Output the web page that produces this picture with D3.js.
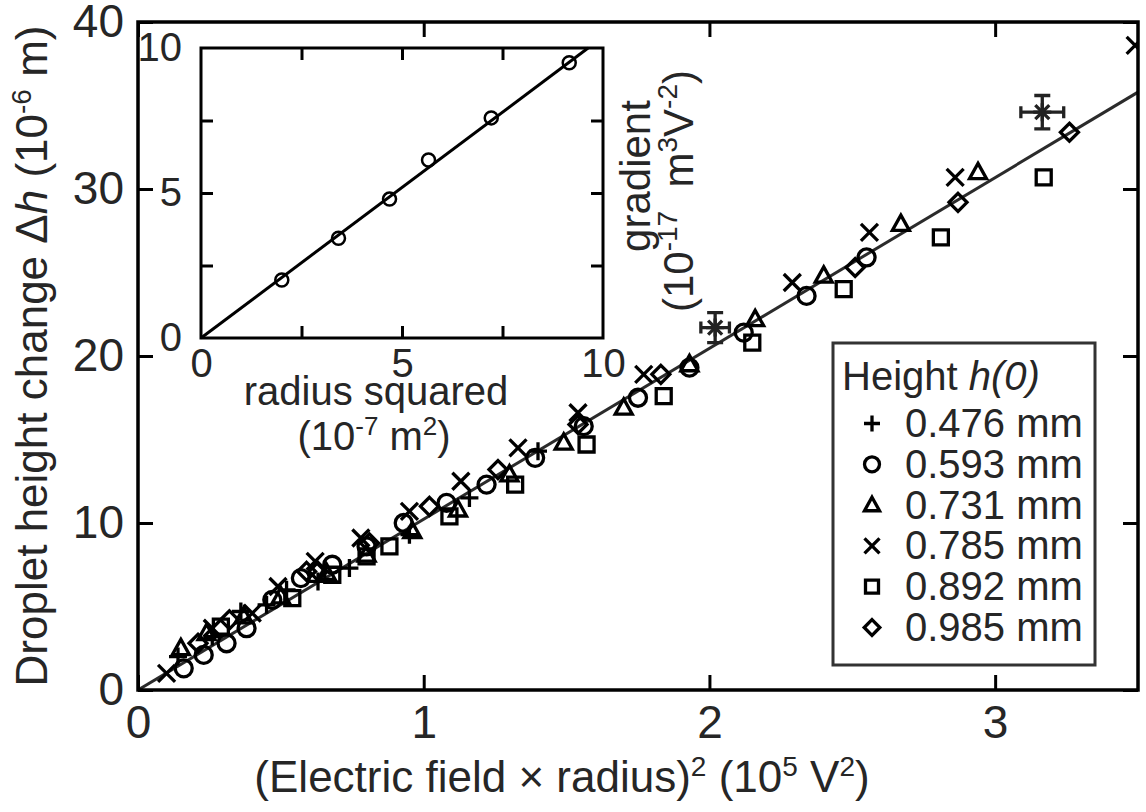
<!DOCTYPE html>
<html>
<head>
<meta charset="utf-8">
<script src="https://cdn.jsdelivr.net/npm/d3@7"></script>
<style>
  body { margin: 0; background: #fff; }
  svg { display: block; font-family: "Liberation Sans", Arial, sans-serif; }
  text { fill: #262626; }
</style>
</head>
<body>
<div id="chart"></div>
<script>
// ---- data ----
const xTicks = [0, 1, 2, 3];
const yTicks = [0, 10, 20, 30, 40];
const seriesLabels = ["0.476 mm", "0.593 mm", "0.731 mm", "0.785 mm", "0.892 mm", "0.985 mm"];
const seriesShapes = ["plus", "circle", "triangle", "cross", "square", "diamond"];

// (E r)^2 [1e5 V^2], dh [1e-6 m]
const h476 = [[0.14, 2.0], [0.26, 3.2], [0.36, 4.7], [0.45, 5.1], [0.52, 6.0], [0.63, 6.5], [0.74, 7.3],
              [0.95, 9.3], [1.16, 11.5], [1.40, 14.3]];
const h593 = [[0.16, 1.3], [0.23, 2.1], [0.31, 2.8], [0.38, 3.7], [0.47, 5.4], [0.57, 6.7], [0.68, 7.5],
              [0.80, 8.6], [0.93, 10.0], [1.08, 11.2], [1.22, 12.3], [1.39, 13.9], [1.56, 15.8],
              [1.75, 17.5], [1.93, 19.3], [2.12, 21.4], [2.34, 23.6], [2.55, 25.9]];
const h731 = [[0.15, 2.5], [0.24, 3.4], [0.37, 4.4], [0.50, 5.6], [0.66, 7.0], [0.80, 8.1], [0.96, 9.5],
              [1.12, 10.8], [1.30, 12.9], [1.49, 14.8], [1.70, 16.9], [1.93, 19.5], [2.16, 22.2],
              [2.40, 24.8], [2.67, 27.9], [2.94, 31.0]];
const h785 = [[0.10, 1.0], [0.26, 3.7], [0.40, 4.6], [0.49, 6.2], [0.62, 7.7], [0.78, 9.1], [0.95, 10.7],
              [1.13, 12.5], [1.33, 14.5], [1.54, 16.6], [1.77, 18.9], [2.29, 24.4], [2.56, 27.4],
              [2.86, 30.7], [3.49, 38.6]];
const h892 = [[0.29, 3.8], [0.54, 5.5], [0.68, 6.9], [0.80, 8.0], [0.88, 8.6], [1.09, 10.4], [1.32, 12.3],
              [1.57, 14.7], [1.84, 17.6], [2.15, 20.8], [2.47, 24.0], [2.81, 27.1], [3.17, 30.7]];
const h985 = [[0.21, 2.8], [0.32, 4.2], [0.59, 7.1], [0.63, 7.1], [0.81, 8.8], [1.02, 11.0], [1.26, 13.2],
              [1.54, 15.9], [1.83, 18.9], [2.51, 25.3], [2.87, 29.2], [3.26, 33.4]];
const seriesData = [h476, h593, h731, h785, h892, h985];

// representative points with error bars: x, y, x error, y error
const errPts = [[2.02, 21.7, 0.05, 0.9], [3.165, 34.6, 0.075, 1.0]];
const fitLine = [[0, 0], [3.5, 35.8]];

// inset: radius squared [1e-7 m^2] vs gradient [1e-17 m^3 V^-2]
const insetR2 = [2.01, 3.42, 4.69, 5.66, 7.22, 9.16];
const insetGrad = [2.0, 3.44, 4.79, 6.14, 7.59, 9.49];
const insetFit = [[0, 0], [9.63, 10]];
const insetTicks = [0, 5, 10];
const insetMinor = [2.5, 5, 7.5];

// ---- layout ----
const width = 1146, height = 812;
const plot = { left: 138, right: 1138, top: 22, bottom: 690 };
const inset = { left: 201, right: 603, top: 48, bottom: 338 };

const svg = d3.select("#chart").append("svg")
  .attr("width", width)
  .attr("height", height);

svg.append("rect").attr("width", width).attr("height", height).attr("fill", "#fff");

const x = d3.scaleLinear().domain([0, 3.5]).range([plot.left, plot.right]);
const y = d3.scaleLinear().domain([0, 40]).range([plot.bottom, plot.top]);

// marker paths centred on 0,0
function markerPath(shape, s) {
  switch (shape) {
    case "plus": return `M${-s},0H${s}M0,${-s}V${s}`;
    case "cross": return `M${-s},${-s}L${s},${s}M${-s},${s}L${s},${-s}`;
    case "circle": return d3.arc()({ innerRadius: 0, outerRadius: s, startAngle: 0, endAngle: 2 * Math.PI }) ;
    case "triangle": return `M0,${-s * 1.05}L${s},${s * 0.75}L${-s},${s * 0.75}Z`;
    case "square": return `M${-s},${-s}H${s}V${s}H${-s}Z`;
    case "diamond": return `M0,${-s * 1.2}L${s * 1.2},0L0,${s * 1.2}L${-s * 1.2},0Z`;
  }
}
const markerSize = { plus: 9, cross: 8.5, circle: 8.5, triangle: 8.5, square: 7.5, diamond: 7.5 };

// clip for main plot
svg.append("clipPath").attr("id", "clip")
  .append("rect")
    .attr("x", plot.left).attr("y", plot.top)
    .attr("width", plot.right - plot.left).attr("height", plot.bottom - plot.top);

const main = svg.append("g").attr("clip-path", "url(#clip)");

// fit line
main.append("path")
  .datum(fitLine)
  .attr("d", d3.line().x(d => x(d[0])).y(d => y(d[1])))
  .attr("fill", "none")
  .attr("stroke", "#2b2b2b")
  .attr("stroke-width", 3);

// data markers
seriesData.forEach((data, i) => {
  const shape = seriesShapes[i];
  main.selectAll(null)
    .data(data)
    .enter()
    .append("path")
      .attr("transform", d => `translate(${x(d[0])},${y(d[1])})`)
      .attr("d", markerPath(shape, markerSize[shape]))
      .attr("fill", "none")
      .attr("stroke", "#000")
      .attr("stroke-width", 3.3);
});

// error bar points
errPts.forEach(p => {
  const g = main.append("g").attr("stroke", "#222").attr("stroke-width", 3.3).attr("fill", "none");
  const cx = x(p[0]), cy = y(p[1]);
  const x0 = x(p[0] - p[2]), x1 = x(p[0] + p[2]);
  const y0 = y(p[1] - p[3]), y1 = y(p[1] + p[3]);
  g.append("path").attr("d", `M${x0},${cy}H${x1}M${x0},${cy - 6}V${cy + 6}M${x1},${cy - 6}V${cy + 6}`);
  g.append("path").attr("d", `M${cx},${y0}V${y1}M${cx - 8},${y0}H${cx + 8}M${cx - 8},${y1}H${cx + 8}`);
  g.append("path").attr("d", markerPath("plus", 9)).attr("transform", `translate(${cx},${cy})`);
  g.append("path").attr("d", markerPath("cross", 7)).attr("transform", `translate(${cx},${cy})`);
});

// axes with inward ticks on all sides
const tickLen = 15;
svg.append("g")
  .attr("transform", `translate(0,${plot.bottom})`)
  .call(d3.axisBottom(x).tickValues(xTicks).tickSize(-tickLen).tickPadding(15).tickFormat(d3.format("d")))
  .call(g => g.select(".domain").remove());
svg.append("g")
  .attr("transform", `translate(0,${plot.top})`)
  .call(d3.axisTop(x).tickValues(xTicks).tickSize(-tickLen).tickFormat(""))
  .call(g => g.select(".domain").remove());
svg.append("g")
  .attr("transform", `translate(${plot.left},0)`)
  .call(d3.axisLeft(y).tickValues(yTicks).tickSize(-tickLen).tickPadding(14).tickFormat(d3.format("d")))
  .call(g => g.select(".domain").remove());
svg.append("g")
  .attr("transform", `translate(${plot.right},0)`)
  .call(d3.axisRight(y).tickValues(yTicks).tickSize(-tickLen).tickFormat(""))
  .call(g => g.select(".domain").remove());

svg.selectAll(".tick line").attr("stroke", "#000").attr("stroke-width", 3);
svg.selectAll(".tick text")
  .attr("font-family", "Liberation Sans, Arial, sans-serif")
  .attr("font-size", 46)
  .attr("fill", "#262626");

// main frame
svg.append("rect")
  .attr("x", plot.left).attr("y", plot.top)
  .attr("width", plot.right - plot.left).attr("height", plot.bottom - plot.top)
  .attr("fill", "none").attr("stroke", "#000").attr("stroke-width", 3.5);

// axis labels
const xLab = svg.append("text")
  .attr("x", 562).attr("y", 792)
  .attr("text-anchor", "middle")
  .attr("font-size", 44);
xLab.append("tspan").text("(Electric field \u00d7 radius)");
xLab.append("tspan").attr("font-size", 28).attr("dy", -16).text("2");
xLab.append("tspan").attr("dy", 16).text(" (10");
xLab.append("tspan").attr("font-size", 28).attr("dy", -16).text("5");
xLab.append("tspan").attr("dy", 16).text(" V");
xLab.append("tspan").attr("font-size", 28).attr("dy", -16).text("2");
xLab.append("tspan").attr("dy", 16).text(")");

const yLab = svg.append("text")
  .attr("transform", "translate(47,356) rotate(-90)")
  .attr("text-anchor", "middle")
  .attr("font-size", 44);
yLab.append("tspan").text("Droplet height change \u0394");
yLab.append("tspan").attr("font-style", "italic").text("h");
yLab.append("tspan").text(" (10");
yLab.append("tspan").attr("font-size", 28).attr("dy", -16).text("-6");
yLab.append("tspan").attr("dy", 16).text(" m)");

// ---- legend ----
const legend = svg.append("g");
legend.append("rect")
  .attr("x", 833).attr("y", 343)
  .attr("width", 262).attr("height", 322)
  .attr("fill", "#fff").attr("stroke", "#333").attr("stroke-width", 3);
const lt = legend.append("text").attr("x", 842).attr("y", 390).attr("font-size", 40);
lt.append("tspan").text("Height ");
lt.append("tspan").attr("font-style", "italic").text("h(0)");

seriesLabels.forEach((label, i) => {
  const by = 437 + i * 40.8;
  const shape = seriesShapes[i];
  legend.append("path")
    .attr("transform", `translate(872,${by - 13.5})`)
    .attr("d", markerPath(shape, markerSize[shape] - 1))
    .attr("fill", "none").attr("stroke", "#000").attr("stroke-width", 3.3);
  legend.append("text")
    .attr("x", 905).attr("y", by)
    .attr("font-size", 40)
    .text(label);
});

// ---- inset ----
const ix = d3.scaleLinear().domain([0, 10]).range([inset.left, inset.right]);
const iy = d3.scaleLinear().domain([0, 10]).range([inset.bottom, inset.top]);
const ins = svg.append("g");

ins.append("rect")
  .attr("x", inset.left).attr("y", inset.top)
  .attr("width", inset.right - inset.left).attr("height", inset.bottom - inset.top)
  .attr("fill", "#fff");

ins.append("path")
  .datum(insetFit)
  .attr("d", d3.line().x(d => ix(d[0])).y(d => iy(d[1])))
  .attr("fill", "none").attr("stroke", "#000").attr("stroke-width", 3);

ins.selectAll("circle")
  .data(insetR2)
  .enter()
  .append("circle")
    .attr("cx", d => ix(d))
    .attr("cy", (d, i) => iy(insetGrad[i]))
    .attr("r", 6.5)
    .attr("fill", "none").attr("stroke", "#000").attr("stroke-width", 2.5);

const iTick = 12;
ins.append("g").attr("class", "inset-axis")
  .attr("transform", `translate(0,${inset.bottom})`)
  .call(d3.axisBottom(ix).tickValues(insetMinor).tickSize(-iTick).tickFormat(""));
ins.append("g").attr("class", "inset-axis")
  .attr("transform", `translate(0,${inset.top})`)
  .call(d3.axisTop(ix).tickValues(insetMinor).tickSize(-iTick).tickFormat(""));
ins.append("g").attr("class", "inset-axis")
  .attr("transform", `translate(${inset.left},0)`)
  .call(d3.axisLeft(iy).tickValues(insetMinor).tickSize(-iTick).tickFormat(""));
ins.append("g").attr("class", "inset-axis")
  .attr("transform", `translate(${inset.right},0)`)
  .call(d3.axisRight(iy).tickValues(insetMinor).tickSize(-iTick).tickFormat(""));
ins.selectAll(".inset-axis .domain").remove();
ins.selectAll(".inset-axis .tick line").attr("stroke", "#000").attr("stroke-width", 3);

// inset tick labels
ins.append("g")
  .attr("transform", `translate(0,${inset.bottom})`)
  .call(d3.axisBottom(ix).tickValues(insetTicks).tickSize(0).tickPadding(11))
  .call(g => g.select(".domain").remove());
ins.append("g")
  .attr("transform", `translate(${inset.left},0)`)
  .call(d3.axisLeft(iy).tickValues(insetTicks).tickSize(0).tickPadding(19))
  .call(g => g.select(".domain").remove());
ins.selectAll(".tick text")
  .attr("font-family", "Liberation Sans, Arial, sans-serif")
  .attr("font-size", 40)
  .attr("fill", "#262626");

ins.append("rect")
  .attr("x", inset.left).attr("y", inset.top)
  .attr("width", inset.right - inset.left).attr("height", inset.bottom - inset.top)
  .attr("fill", "none").attr("stroke", "#000").attr("stroke-width", 3);

ins.append("text")
  .attr("x", 376).attr("y", 405)
  .attr("text-anchor", "middle").attr("font-size", 40)
  .text("radius squared");
const ixl = ins.append("text")
  .attr("x", 374).attr("y", 450)
  .attr("text-anchor", "middle").attr("font-size", 40);
ixl.append("tspan").text("(10");
ixl.append("tspan").attr("font-size", 26).attr("dy", -15).text("-7");
ixl.append("tspan").attr("dy", 15).text(" m");
ixl.append("tspan").attr("font-size", 26).attr("dy", -15).text("2");
ixl.append("tspan").attr("dy", 15).text(")");

ins.append("text")
  .attr("transform", "translate(650,176) rotate(-90)")
  .attr("text-anchor", "middle").attr("font-size", 42)
  .text("gradient");
const iyl = ins.append("text")
  .attr("transform", "translate(693,191) rotate(-90)")
  .attr("text-anchor", "middle").attr("font-size", 42);
iyl.append("tspan").text("(10");
iyl.append("tspan").attr("font-size", 28).attr("dy", -16).text("-17");
iyl.append("tspan").attr("dy", 16).text("\u00a0\u00a0m");
iyl.append("tspan").attr("font-size", 28).attr("dy", -16).text("3");
iyl.append("tspan").attr("dy", 16).text("V");
iyl.append("tspan").attr("font-size", 28).attr("dy", -16).text("-2");
iyl.append("tspan").attr("dy", 16).text(")");
</script>
</body>
</html>
